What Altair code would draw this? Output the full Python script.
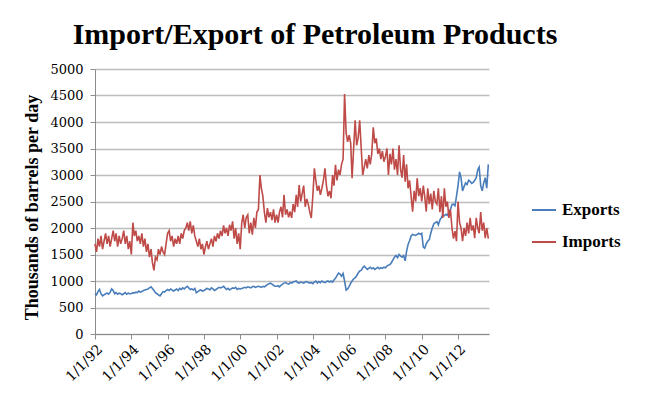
import altair as alt
import pandas as pd

series_names = ["Exports", "Imports"]
series_colors = ["#4A7EBB", "#BE4B48"]

exports = [
    760, 740, 800, 840, 760, 720, 740, 760, 770, 750, 790, 850,      # 1992
    820, 760, 780, 750, 770, 760, 740, 760, 780, 750, 770, 760,      # 1993
    760, 780, 770, 790, 780, 810, 790, 800, 820, 830, 840, 850,      # 1994
    870, 890, 860, 820, 780, 760, 740, 720, 760, 800, 790, 820,      # 1995
    840, 820, 850, 830, 810, 830, 850, 820, 860, 840, 870, 850,      # 1996
    880, 900, 870, 840, 850, 830, 860, 780, 800, 820, 830, 810,      # 1997
    820, 840, 860, 850, 830, 870, 850, 820, 840, 860, 880, 870,      # 1998
    880, 900, 870, 840, 860, 830, 850, 870, 860, 880, 840, 860,      # 1999
    850, 860, 870, 880, 870, 890, 880, 870, 890, 900, 880, 890,      # 2000
    900, 890, 880, 900, 890, 910, 930, 950, 960, 940, 920, 900,      # 2001
    900, 910, 890, 920, 940, 960, 970, 950, 940, 970, 960, 980,      # 2002
    990, 1000, 970, 960, 980, 970, 960, 980, 990, 970, 960, 970,     # 2003
    950, 980, 1000, 960, 990, 970, 1000, 980, 970, 990, 1000, 980,   # 2004
    1000, 980, 1020, 1050, 1100, 1150, 1130, 1090, 1140, 1000, 830, 850,  # 2005
    900, 960, 1000, 1040, 1060, 1100, 1150, 1190, 1200, 1250, 1280, 1250,  # 2006
    1220, 1240, 1260, 1230, 1250, 1220, 1240, 1260, 1230, 1250, 1240, 1260,  # 2007
    1250, 1280, 1300, 1310, 1350, 1400, 1450, 1480, 1440, 1500, 1470, 1450,  # 2008
    1480, 1380, 1560, 1690, 1760, 1850, 1880, 1870, 1860, 1880, 1900, 1880,  # 2009
    1900, 1640, 1620, 1700, 1750, 1780, 1900, 2000, 2080, 2100, 2120, 2060,  # 2010
    2150, 2200, 2250, 2230, 2260, 2240, 2300, 2350, 2440, 2450, 2420, 2600,  # 2011
    2800, 3060, 2950, 2700, 2780, 2850, 2820, 2900, 2880, 2840, 2860, 2900,  # 2012
    2950, 3100, 3150, 2800, 2700, 2850, 2950, 2750, 3200,                    # 2013
]

imports = [
    1700, 1550, 1800, 1650, 1850, 1600, 1750, 1900, 1700, 1850, 1650, 1800,  # 1992
    1950, 1750, 1900, 1650, 1850, 1700, 1800, 1950, 1700, 1850, 1600, 1750,  # 1993
    1500, 2100, 1850, 1950, 1750, 1850, 1700, 1900, 1650, 1800, 1550, 1700,  # 1994
    1450, 1600, 1350, 1200, 1450, 1400, 1600, 1500, 1650, 1550, 1500, 1700,  # 1995
    1900, 1950, 1750, 1850, 1650, 1800, 1700, 1850, 1700, 1900, 1800, 1950,  # 1996
    2000, 2100, 1950, 2125, 1900, 2050, 1850, 1750, 1650, 1800, 1600, 1700,  # 1997
    1500, 1650, 1750, 1600, 1700, 1800, 1650, 1850, 1750, 1900, 1800, 1950,  # 1998
    1850, 2050, 1900, 2000, 1850, 2060, 1950, 2125, 1800, 2000, 1700, 1900,  # 1999
    1600, 2100, 2250, 2000, 2200, 2250, 1900, 2100, 1875, 2190, 2000, 2300,  # 2000
    2350, 3000, 2750, 2600, 2300, 2100, 2375, 2200, 2300, 2150, 2350, 2100,  # 2001
    2250, 2100, 2300, 2400, 2200, 2625, 2250, 2350, 2200, 2310, 2190, 2450,  # 2002
    2300, 2625, 2400, 2810, 2500, 2650, 2800, 2400, 2550, 2450, 2300, 2190,  # 2003
    2600, 3125, 2900, 2700, 2800, 2625, 2750, 2900, 3125, 2800, 2600, 2700,  # 2004
    2560, 3000, 2800, 3190, 2900, 3100, 3000, 3200, 3300, 4530, 3800, 3625,  # 2005
    3750, 3600, 2940, 3500, 4030, 3560, 3700, 4030, 3500, 3000, 3150, 3300,  # 2006
    3125, 3375, 3200, 3400, 3900, 3600, 3690, 3400, 3500, 3300, 3450, 3250,  # 2007
    3350, 3500, 3000, 3400, 3200, 3500, 3100, 3300, 3000, 3560, 3100, 2950,  # 2008
    3375, 2875, 3200, 2750, 2900, 2600, 2310, 2700, 2500, 2940, 2600, 2750,  # 2009
    2500, 2800, 2600, 2310, 2750, 2450, 2650, 2350, 2700, 2500, 2450, 2750,  # 2010
    2300, 2600, 2190, 2750, 2400, 2500, 2190, 2350, 2000, 1800, 1940, 1750,  # 2011
    2500, 2100, 2000, 1750, 2000, 1850, 2100, 1900, 2190, 1950, 2050, 1810,  # 2012
    2190, 2000, 1900, 2300, 1950, 2100, 1810, 2000, 1800,                    # 2013
]

tick_years = list(range(1992, 2013, 2))
y_ticks = list(range(0, 5001, 500))

dates = pd.date_range("1992-01-01", periods=len(exports), freq="MS").strftime("%Y-%m-%d")
df = pd.concat([
    pd.DataFrame({"date": dates, "value": exports, "series": "Exports"}),
    pd.DataFrame({"date": dates, "value": imports, "series": "Imports"}),
])

FONT = "Liberation Serif"
LABEL_FONT = "DejaVu Serif"

chart = alt.Chart(df).mark_line(strokeWidth=1.6).encode(
    x=alt.X(
        "date:T",
        scale=alt.Scale(
            type="utc",
            domain=[alt.DateTime(year=1992, month=1, date=1, utc=True),
                    alt.DateTime(year=2013, month=9, date=15, utc=True)],
        ),
        axis=alt.Axis(
            values=[alt.DateTime(year=y, month=1, date=1, utc=True) for y in tick_years],
            labelExpr="utcFormat(datum.value, '%-m/%-d/%y')",
            labelAngle=-45, labelAlign="right", labelBaseline="top",
            labelFont=LABEL_FONT, labelFontSize=14, labelColor="#000000",
            labelPadding=3, tickSize=5, grid=False, title=None,
            domainColor="#8C8C8C", tickColor="#8C8C8C", labelOverlap=False,
        ),
    ),
    y=alt.Y(
        "value:Q",
        scale=alt.Scale(domain=[0, 5000], nice=False),
        axis=alt.Axis(
            values=y_ticks, format="d", title="Thousands of barrels per day",
            titleFont=FONT, titleFontSize=18, titleFontWeight="bold", titleColor="#000000",
            titlePadding=8, titleY=138,
            labelFont=LABEL_FONT, labelFontSize=13, labelColor="#000000", labelPadding=7,
            tickSize=5, grid=True, gridColor="#BDBDBD", gridWidth=1.3,
            domainColor="#8C8C8C", tickColor="#8C8C8C",
        ),
    ),
    color=alt.Color(
        "series:N",
        scale=alt.Scale(domain=series_names, range=series_colors),
        legend=alt.Legend(
            title=None, orient="none", legendX=436, legendY=128,
            symbolType="stroke", symbolSize=576, symbolStrokeWidth=2,
            labelFont=FONT, labelFontSize=17, labelFontWeight="bold", labelColor="#000000",
            labelOffset=5, rowPadding=11,
        ),
    ),
).properties(
    width=394, height=265,
    title=alt.TitleParams(
        "Import/Export of Petroleum Products",
        font=FONT, fontSize=30, fontWeight="bold", color="#000000",
        anchor="middle", dx=23, offset=13,
    ),
    autosize=alt.AutoSizeParams(type="none"),
    padding={"left": 87, "top": 61, "right": 148, "bottom": 56},
).configure_view(stroke=None)

chart.save("out.html", embed_options={"renderer": "svg", "actions": False})
